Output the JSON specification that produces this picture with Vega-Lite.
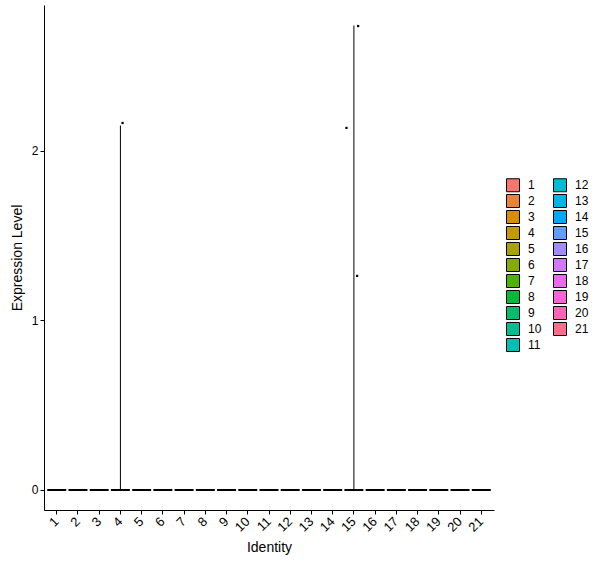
{
  "$schema": "https://vega.github.io/schema/vega-lite/v6.json",
  "background": "white",
  "padding": {"left": 10, "top": 5, "right": 0, "bottom": 5},
  "width": 450,
  "height": 505,
  "datasets": {
    "zeros": [
      {"cluster": "1", "value": 0}, {"cluster": "2", "value": 0}, {"cluster": "3", "value": 0},
      {"cluster": "4", "value": 0}, {"cluster": "5", "value": 0}, {"cluster": "6", "value": 0},
      {"cluster": "7", "value": 0}, {"cluster": "8", "value": 0}, {"cluster": "9", "value": 0},
      {"cluster": "10", "value": 0}, {"cluster": "11", "value": 0}, {"cluster": "12", "value": 0},
      {"cluster": "13", "value": 0}, {"cluster": "14", "value": 0}, {"cluster": "15", "value": 0},
      {"cluster": "16", "value": 0}, {"cluster": "17", "value": 0}, {"cluster": "18", "value": 0},
      {"cluster": "19", "value": 0}, {"cluster": "20", "value": 0}, {"cluster": "21", "value": 0}
    ],
    "spikes": [
      {"cluster": "4", "low": 0, "high": 2.15},
      {"cluster": "15", "low": 0, "high": 2.74}
    ],
    "points": [
      {"cluster": "4", "value": 2.165, "jitter": 0.1},
      {"cluster": "15", "value": 2.737, "jitter": 0.2},
      {"cluster": "15", "value": 2.136, "jitter": -0.35},
      {"cluster": "15", "value": 1.263, "jitter": 0.15}
    ]
  },
  "encoding": {
    "x": {
      "field": "cluster", "type": "nominal", "title": "Identity",
      "sort": ["1","2","3","4","5","6","7","8","9","10","11","12","13","14","15","16","17","18","19","20","21"],
      "scale": {"paddingInner": 0, "paddingOuter": 0.1},
      "axis": {"labelAngle": -45, "labelAlign": "right", "labelBaseline": "middle", "labelPadding": 5, "labelFontSize": 13, "titlePadding": 6}
    }
  },
  "layer": [
    {
      "data": {"name": "zeros"},
      "mark": {"type": "square", "size": 0, "opacity": 1},
      "encoding": {
        "y": {
          "field": "value", "type": "quantitative", "title": "Expression Level",
          "scale": {"domain": [-0.118, 2.861], "nice": false, "zero": false},
          "axis": {"values": [0, 1, 2], "format": "d", "grid": false, "titlePadding": 7}
        },
        "fill": {
          "field": "cluster", "type": "nominal",
          "scale": {
            "domain": ["1","2","3","4","5","6","7","8","9","10","11","12","13","14","15","16","17","18","19","20","21"],
            "range": ["#F8766D","#EB8235","#D98E00","#C39A00","#A9A300","#86AC00","#4CB400","#00BA38","#00BE6B","#00C093","#00C0B4","#00BDD1","#00B6E9","#00A9FF","#619CFF","#A48AFF","#CF78FC","#EB69EE","#FB62D7","#FF63B8","#FF6C8E"]
          },
          "legend": {
            "title": null, "columns": 2, "orient": "none", "legendX": 462, "legendY": 173,
            "symbolType": "square", "symbolSize": 169, "symbolStrokeColor": "black",
            "symbolStrokeWidth": 1, "symbolOpacity": 1, "rowPadding": -6, "columnPadding": 9,
            "labelFontSize": 12, "labelOffset": 8
          }
        }
      }
    },
    {
      "data": {"name": "zeros"},
      "mark": {"type": "tick", "size": 19, "thickness": 2, "color": "black", "opacity": 1},
      "encoding": {
        "y": {"field": "value", "type": "quantitative"}
      }
    },
    {
      "data": {"name": "spikes"},
      "mark": {"type": "rule", "color": "black", "strokeWidth": 1},
      "encoding": {
        "y": {"field": "low", "type": "quantitative"},
        "y2": {"field": "high"}
      }
    },
    {
      "data": {"name": "points"},
      "mark": {"type": "square", "size": 5, "color": "black", "opacity": 1},
      "encoding": {
        "y": {"field": "value", "type": "quantitative"},
        "xOffset": {"field": "jitter", "type": "quantitative", "scale": {"domain": [-0.5, 0.5]}}
      }
    }
  ],
  "config": {
    "font": "Liberation Sans",
    "view": {"stroke": null},
    "axis": {
      "domainColor": "black", "tickColor": "black", "labelColor": "black", "titleColor": "black",
      "labelFontSize": 12, "titleFontSize": 14, "titleFontWeight": "normal", "tickSize": 4,
      "labelFont": "Liberation Sans", "titleFont": "Liberation Sans"
    },
    "legend": {"labelFont": "Liberation Sans", "labelColor": "black"}
  }
}
